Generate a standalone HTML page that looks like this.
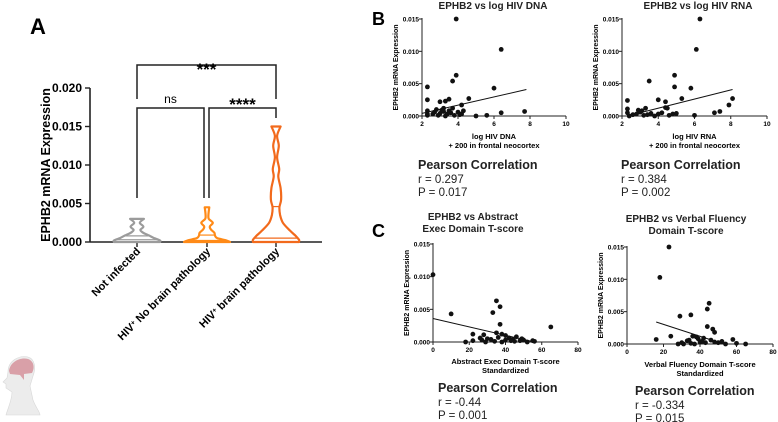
<!DOCTYPE html>
<html><head><meta charset="utf-8">
<style>
html,body{margin:0;padding:0;background:#fff;}
svg{display:block;font-family:"Liberation Sans",sans-serif;}
</style></head>
<body>
<svg id="fig" width="778" height="422" viewBox="0 0 778 422"></svg>
<script>
// ---------- Panel A data ----------
const catLabels = ["Not infected", "HIV+ No brain pathology", "HIV+ brain pathology"];
const yTicksA = [0, 0.005, 0.010, 0.015, 0.020];
const grayY = [0,0.0002,0.0005,0.0008,0.001,0.0013,0.0016,0.002,0.0025,0.003];
const grayD = [1,1,0.75,0.55,0.4,0.22,0.15,0.28,0.12,0.3];
const or1Y = [0,0.0002,0.0005,0.0008,0.0012,0.0016,0.002,0.0025,0.003,0.0035,0.0045];
const or1D = [1,0.85,0.45,0.35,0.32,0.18,0.12,0.25,0.08,0.06,0.1];
const or2Y = [0,0.0003,0.0008,0.0015,0.0025,0.0035,0.0045,0.0055,0.007,0.0085,0.0095,0.011,0.0125,0.0138,0.015];
const or2D = [1,1,0.85,0.6,0.3,0.18,0.15,0.22,0.2,0.1,0.14,0.05,0.12,0.05,0.2];
const medians = [0.0003, 0.0002, 0.0005];
const quart3 = [0.0008, 0.0009, 0.0046];
// ---------- Panel B/C data ----------
const dnaX = [2.3,2.3,2.3,2.3,2.3,3.9,6.4,3.9,3.7,6.0,4.6,3.5,3.3,3.0,4.2,3.7,3.2,2.8,3.1,4.3,4.0,6.4,7.7,5.6,5.0,4.1,3.0,3.4,3.6,2.6,2.9,3.3,3.8,4.2,2.7,3.2,3.5];
const dnaY = [0.0045,0.0025,0.0008,0.0003,0.0001,0.015,0.0103,0.0063,0.0054,0.0043,0.0027,0.0026,0.0023,0.0022,0.0017,0.0012,0.0012,0.001,0.0009,0.0008,0.0006,0.0005,0.0007,0.0001,0,0.0002,0.0004,0.0003,0.0005,0.0003,0.0001,0,0.0001,0.0003,0.0006,0.0007,0.0008];
const dnaFit = [2.0,0.0004,7.8,0.0041];
const rnaX = [6.3,6.1,4.9,3.5,4.9,5.8,5.3,8.1,4.0,2.3,4.4,7.9,4.4,4.5,2.3,3.3,2.9,7.4,7.1,6.0,2.3,2.6,3.0,3.6,4.0,4.8,5.0,3.2,3.8,4.2,2.8,3.4,4.6,2.4,3.1];
const rnaY = [0.015,0.0103,0.0063,0.0054,0.0045,0.0043,0.0027,0.0027,0.0025,0.0024,0.0022,0.0017,0.0013,0.0012,0.0011,0.0012,0.0009,0.0007,0.0005,0.0001,0.0005,0.0002,0.0006,0.0004,0.0003,0.0003,0.0004,0.0001,0,0.0005,0.0003,0.0002,0.0001,0,0.0008];
const rnaFit = [3.0,0.0005,8.1,0.0041];
const absX = [0,10,35,37,33,37,65,22,28,35,38,40,46,42,30,18,22,27,32,36,44,48,50,52,55,56,26,34,40,45,49,29,38,43];
const absY = [0.0103,0.0043,0.0063,0.0054,0.0045,0.0027,0.0023,0.0012,0.0011,0.0014,0.0012,0.001,0.0008,0.0006,0.0005,0,0.0002,0.0003,0.0004,0.0007,0.0004,0.0002,0.0003,0,0.0002,0.0001,0.0006,0.0001,0.0003,0.0001,0.0005,0,0,0.0002];
const absFit = [0,0.0036,56,0];
const vfX = [23,18,45,44,35,29,44,47,48,24,16,36,38,42,58,52,30,28,33,40,46,50,54,60,65,35,39,43,41,34,31,37,48];
const vfY = [0.015,0.0103,0.0063,0.0054,0.0045,0.0043,0.0027,0.0023,0.0018,0.0012,0.0007,0.0012,0.0011,0.0009,0.0007,0.0004,0.0002,0,0.0005,0.0003,0.0006,0.0002,0,0.0001,0,0.0001,0.0008,0.0002,0.0004,0.0006,0,0,0.0003];
const vfFit = [16,0.0034,53,0];
const yTicksS = [0, 0.005, 0.010, 0.015];
const xTicksHiv = [2,4,6,8,10];
const xTicksT = [0,20,40,60,80];

const NS = "http://www.w3.org/2000/svg";
const svg = document.getElementById('fig');
function mk(tag, attrs, parent, name, text){
  const e = document.createElementNS(NS, tag);
  for (const k in attrs) e.setAttribute(k, attrs[k]);
  
  
  if (text !== undefined) e.textContent = text;
  (parent||svg).appendChild(e);
  return e;
}
function smooth(pts){
  let d = 'M'+pts[0][0].toFixed(1)+','+pts[0][1].toFixed(1);
  for(let i=0;i<pts.length-1;i++){
    const p0=pts[Math.max(0,i-1)],p1=pts[i],p2=pts[i+1],p3=pts[Math.min(pts.length-1,i+2)];
    const c1=[p1[0]+(p2[0]-p0[0])/6,p1[1]+(p2[1]-p0[1])/6];
    const c2=[p2[0]-(p3[0]-p1[0])/6,p2[1]-(p3[1]-p1[1])/6];
    d+=` C${c1[0].toFixed(1)},${c1[1].toFixed(1)} ${c2[0].toFixed(1)},${c2[1].toFixed(1)} ${p2[0].toFixed(1)},${p2[1].toFixed(1)}`;
  }
  return d;
}

// ---------- Panel A ----------
const gA = mk('g', {}, svg, 'panel-a');
mk('text',{x:30,y:34,'font-size':22,'font-weight':'bold'},gA,'panel-label-a','A');
const yA = v => 242 - v/0.020*154;
const cx = [137,207,276];
mk('line',{x1:90,y1:88,x2:90,y2:242,stroke:'#222','stroke-width':1.6},gA,'y-axis-a');
mk('line',{x1:90,y1:242,x2:322,y2:242,stroke:'#222','stroke-width':1.6},gA,'x-axis-a');
yTicksA.forEach(v=>{
  mk('line',{x1:85,y1:yA(v),x2:90,y2:yA(v),stroke:'#222','stroke-width':1.4},gA,'y-tick-a');
  mk('text',{x:82,y:yA(v)+4,'font-size':12,'font-weight':'bold','text-anchor':'end'},gA,'y-tick-label-a',v.toFixed(3));
});
cx.forEach(c=>mk('line',{x1:c,y1:242,x2:c,y2:247,stroke:'#222','stroke-width':1.4},gA,'x-tick-a'));
mk('text',{x:0,y:0,'font-size':12.5,'font-weight':'bold','text-anchor':'middle',transform:'translate(50,165) rotate(-90)'},gA,'y-axis-title-a','EPHB2 mRNA Expression');
catLabels.forEach((l,i)=>{
  const t = mk('text',{x:0,y:0,'font-size':11,'font-weight':'bold','text-anchor':'end',transform:`translate(${cx[i]+4},${252}) rotate(-45)`},gA,'x-tick-label-a');
  if(i===0){ t.textContent = l; }
  else {
    const a=document.createElementNS(NS,'tspan'); a.textContent='HIV'; t.appendChild(a);
    const b=document.createElementNS(NS,'tspan'); b.setAttribute('baseline-shift','super'); b.setAttribute('font-size','7'); b.textContent='+'; t.appendChild(b);
    const c=document.createElementNS(NS,'tspan'); c.textContent=l.replace('HIV+',''); t.appendChild(c);
  }
});
function violin(c, ys, ds, maxW, color, name, i){
  const right = ys.map((y,k)=>[c+ds[k]*maxW, yA(y)]);
  const left = ys.map((y,k)=>[c-ds[k]*maxW, yA(y)]).reverse();
  const d = smooth(right) + ' L' + smooth(left).slice(1) + 'Z';
  mk('path',{d:d,fill:'none',stroke:color,'stroke-width':2.2,'stroke-linejoin':'round'},gA,name);
  const hw = v=>{ for(let k=0;k<ys.length-1;k++){ if(v>=ys[k]&&v<=ys[k+1]){const f=(v-ys[k])/(ys[k+1]-ys[k]);return (ds[k]+(ds[k+1]-ds[k])*f)*maxW;}} return 0;};
  [medians[i],quart3[i]].forEach(m=>mk('line',{x1:c-hw(m),y1:yA(m),x2:c+hw(m),y2:yA(m),stroke:color,'stroke-width':1.2},gA,name+'-quartile'));
}
violin(cx[0],grayY,grayD,23,'#9b9b9b','violin-not-infected',0);
violin(cx[1],or1Y,or1D,23,'#ff8a17','violin-hiv-no-pathology',1);
violin(cx[2],or2Y,or2D,23,'#f26a1c','violin-hiv-pathology',2);
const br = (x1,x2,y,d1,d2,txt,name,ty,fs)=>{
  mk('path',{d:`M${x1},${d1} L${x1},${y} L${x2},${y} L${x2},${d2}`,fill:'none',stroke:'#222','stroke-width':1.5},gA,name);
  mk('text',{x:(x1+x2)/2,y:ty,'font-size':fs,'font-weight':txt==='ns'?'normal':'bold','text-anchor':'middle'},gA,name+'-label',txt);
};
br(137,276,65,99,99,'***','bracket-all',75,17);
br(137,204,108,198,198,'ns','bracket-ns',103,12);
br(209,276,108,198,118,'****','bracket-pathology',110,17);

// ---------- scatter panels ----------
function scatter(o){
  const g = mk('g',{},svg,o.name);
  const sx = v => o.x0 + (v-o.xmin)/(o.xmax-o.xmin)*(o.x1-o.x0);
  const sy = v => o.y0 - v/0.015*(o.y0-o.y1);
  mk('line',{x1:o.x0,y1:o.y1-1,x2:o.x0,y2:o.y0,stroke:'#222','stroke-width':1},g,'y-axis');
  mk('line',{x1:o.x0,y1:o.y0,x2:o.x1,y2:o.y0,stroke:'#222','stroke-width':1},g,'x-axis');
  yTicksS.forEach(v=>{
    mk('line',{x1:o.x0-3,y1:sy(v),x2:o.x0,y2:sy(v),stroke:'#222'},g,'y-tick');
    mk('text',{x:o.x0-3,y:sy(v)+2.5,'font-size':6.5,'font-weight':'bold','text-anchor':'end'},g,'y-tick-label',v.toFixed(3));
  });
  o.xt.forEach(v=>{
    mk('line',{x1:sx(v),y1:o.y0,x2:sx(v),y2:o.y0+3,stroke:'#222'},g,'x-tick');
    mk('text',{x:sx(v),y:o.y0+10,'font-size':6.5,'font-weight':'bold','text-anchor':'middle'},g,'x-tick-label',v);
  });
  o.xs.forEach((v,k)=>mk('circle',{cx:sx(v),cy:sy(o.ys[k]),r:2.4,fill:'#111'},g,'point'));
  mk('line',{x1:sx(o.fit[0]),y1:sy(o.fit[1]),x2:sx(o.fit[2]),y2:sy(o.fit[3]),stroke:'#111','stroke-width':1},g,'regression-line');
  mk('text',{x:0,y:0,'font-size':7,'font-weight':'bold','text-anchor':'middle',transform:`translate(${o.x0-24},${(o.y0+o.y1)/2}) rotate(-90)`},g,'y-axis-title','EPHB2 mRNA Expression');
  o.title.forEach((t,k)=>mk('text',{x:o.tx,y:o.ty+k*12,'font-size':10,'font-weight':'bold','text-anchor':'middle',fill:'#222'},g,'chart-title',t));
  o.xl.forEach((t,k)=>mk('text',{x:(o.x0+o.x1)/2,y:o.xly+k*9,'font-size':7.5,'font-weight':'bold','text-anchor':'middle'},g,'x-axis-title',t));
  mk('text',{x:o.px,y:o.py,'font-size':12.5,'font-weight':'bold','fill':'#222'},g,'stats-heading','Pearson Correlation');
  mk('text',{x:o.px,y:o.py+14,'font-size':11.5,'fill':'#222'},g,'stats-r',o.r);
  mk('text',{x:o.px,y:o.py+27,'font-size':11.5,'fill':'#222'},g,'stats-p',o.p);
}
scatter({name:'scatter-hiv-dna',x0:422,x1:566,y0:116,y1:19,xmin:2,xmax:10,xt:xTicksHiv,xs:dnaX,ys:dnaY,fit:dnaFit,title:['EPHB2 vs log HIV DNA'],tx:493,ty:9,xl:['log HIV DNA','+ 200 in frontal neocortex'],xly:139,px:418,py:169,r:'r = 0.297',p:'P = 0.017'});
scatter({name:'scatter-hiv-rna',x0:622,x1:767,y0:116,y1:19,xmin:2,xmax:10,xt:xTicksHiv,xs:rnaX,ys:rnaY,fit:rnaFit,title:['EPHB2 vs log HIV RNA'],tx:698,ty:9,xl:['log HIV RNA','+ 200 in frontal neocortex'],xly:139,px:621,py:169,r:'r = 0.384',p:'P = 0.002'});
scatter({name:'scatter-abstract-exec',x0:433,x1:578,y0:342,y1:244,xmin:0,xmax:80,xt:xTicksT,xs:absX,ys:absY,fit:absFit,title:['EPHB2 vs Abstract','Exec Domain T-score'],tx:473,ty:220,xl:['Abstract Exec Domain T-score','Standardized'],xly:364,px:438,py:392,r:'r = -0.44',p:'P = 0.001'});
scatter({name:'scatter-verbal-fluency',x0:627,x1:773,y0:344,y1:247,xmin:0,xmax:80,xt:xTicksT,xs:vfX,ys:vfY,fit:vfFit,title:['EPHB2 vs Verbal Fluency','Domain T-score'],tx:686,ty:222,xl:['Verbal Fluency Domain T-score','Standardized'],xly:367,px:635,py:395,r:'r = -0.334',p:'P = 0.015'});
mk('text',{x:372,y:25,'font-size':18,'font-weight':'bold'},svg,'panel-label-b','B');
mk('text',{x:372,y:237,'font-size':18,'font-weight':'bold'},svg,'panel-label-c','C');

// head icon
const gH = mk('g',{},svg,'head-icon');
mk('path',{d:'M8,372 C8,360 20,355 28,357 C35,359 36,368 33,376 L30,386 L33,400 C36,408 40,412 40,415 L6,415 C8,408 12,400 12,392 L6,388 L6,384 L3,382 L7,378 Z',fill:'#ececec',stroke:'#d8d8d8','stroke-width':0.6},gH,'head-silhouette');
mk('path',{d:'M9,371 C10,362 20,357 28,359 C34,361 35,368 32,373 L24,374 L24,380 L20,375 L10,374 Z',fill:'#d9a0a8'},gH,'brain');
</script>
</body></html>
